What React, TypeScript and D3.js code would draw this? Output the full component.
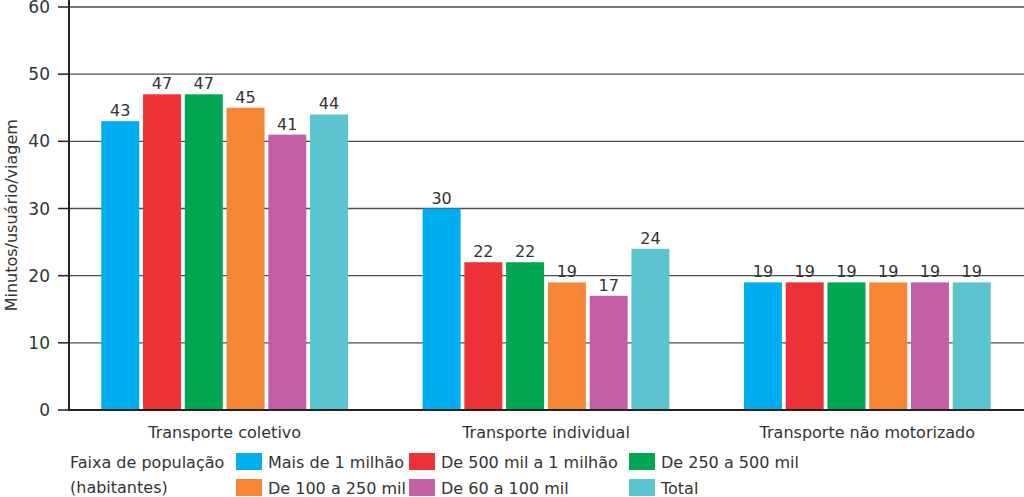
import React from "react";
import * as d3 from "d3";

const categories = ["Transporte coletivo", "Transporte individual", "Transporte não motorizado"];
const seriesNames = ["Mais de 1 milhão", "De 500 mil a 1 milhão", "De 250 a 500 mil", "De 100 a 250 mil", "De 60 a 100 mil", "Total"];
const seriesColors = ["#00AEEF", "#ED3237", "#00A651", "#F58634", "#C55FA5", "#5BC4CF"];
const valuesColetivo = [43, 47, 47, 45, 41, 44];
const valuesIndividual = [30, 22, 22, 19, 17, 24];
const valuesNaoMotorizado = [19, 19, 19, 19, 19, 19];
const yTicks = [0, 10, 20, 30, 40, 50, 60];
const yLabel = "Minutos/usuário/viagem";
const legendTitle = ["Faixa de população", "(habitantes)"];

const allValues = [valuesColetivo, valuesIndividual, valuesNaoMotorizado];

const W = 1024;
const H = 497;
const FONT = "DejaVu Sans, Verdana, sans-serif";

export default function App() {
  const y = d3.scaleLinear().domain([0, 60]).range([410, 7]);
  const x0 = d3.scaleBand<string>().domain(categories).range([64, 1028]).paddingInner(0.232).paddingOuter(0.116);
  const x1 = d3.scaleBand<string>().domain(seriesNames).range([0, x0.bandwidth()]).paddingInner(0.09);
  const axisX = 69;

  const legendPos = [
    [236, 453], [409, 453], [629, 453],
    [236, 479], [409, 479], [629, 479],
  ];

  return (
    <svg width={W} height={H} style={{ position: "absolute", left: 0, top: 0, background: "#fff" }} fontFamily={FONT}>
      <rect x={0} y={0} width={W} height={H} fill="#fff" />
      {yTicks.filter((t) => t > 0).map((t) => (
        <line key={"g" + t} x1={axisX} x2={W} y1={y(t)} y2={y(t)} stroke="#4d4d4d" strokeWidth={1.3} />
      ))}
      {yTicks.map((t) => (
        <g key={"t" + t}>
          <line x1={58} x2={axisX} y1={y(t)} y2={y(t)} stroke="#222" strokeWidth={1.5} />
          <text x={50} y={y(t)} dy="0.36em" textAnchor="end" fontSize={17} fill="#333">{t}</text>
        </g>
      ))}
      {categories.map((c, ci) => (
        <g key={c} transform={`translate(${x0(c)},0)`}>
          {seriesNames.map((s, si) => {
            const v = allValues[ci][si];
            const bx = x1(s) as number;
            return (
              <g key={s}>
                <rect x={bx} y={y(v)} width={x1.bandwidth()} height={y(0) - y(v)} fill={seriesColors[si]} />
                <text x={bx + x1.bandwidth() / 2} y={y(v) - 5} textAnchor="middle" fontSize={16} fill="#333">{v}</text>
              </g>
            );
          })}
          <text x={x0.bandwidth() / 2} y={438} textAnchor="middle" fontSize={16} fill="#333">{c}</text>
        </g>
      ))}
      <line x1={axisX} x2={axisX} y1={0} y2={y(0) + 1} stroke="#222" strokeWidth={2} />
      <line x1={axisX - 1} x2={W} y1={y(0)} y2={y(0)} stroke="#222" strokeWidth={2} />
      <text transform={`translate(17,${y(29)}) rotate(-90)`} textAnchor="middle" fontSize={16} fill="#333">{yLabel}</text>
      <text x={70} y={468} fontSize={16} fill="#333">{legendTitle[0]}</text>
      <text x={70} y={493} fontSize={16} fill="#333">{legendTitle[1]}</text>
      {seriesNames.map((s, i) => (
        <g key={"l" + s}>
          <rect x={legendPos[i][0]} y={legendPos[i][1]} width={26} height={17} fill={seriesColors[i]} />
          <text x={legendPos[i][0] + 32} y={legendPos[i][1] + 15} fontSize={16} fill="#333">{s}</text>
        </g>
      ))}
    </svg>
  );
}
